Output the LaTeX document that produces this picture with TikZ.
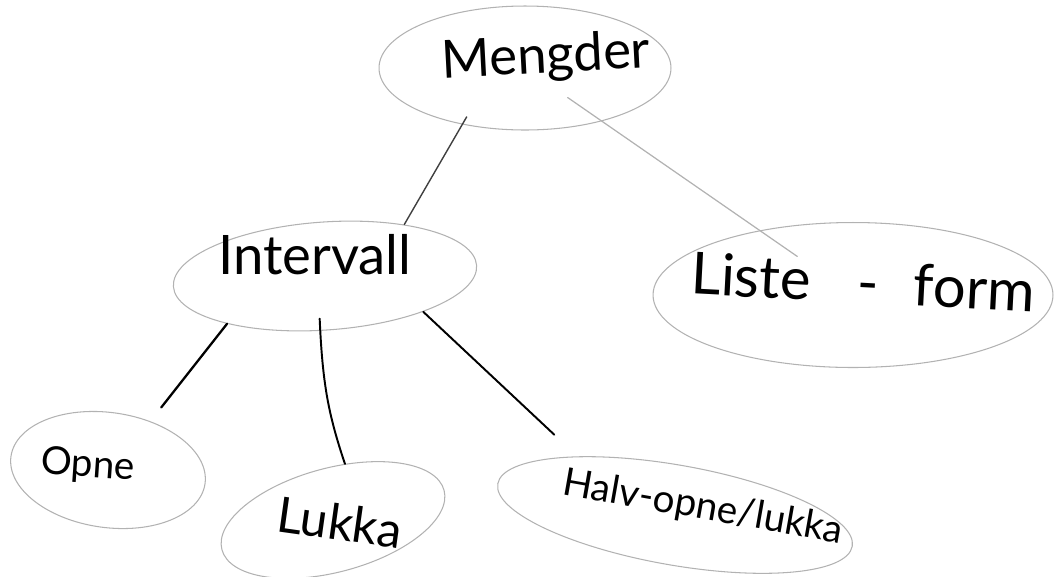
\documentclass[tikz,border=0pt]{standalone}
\usepackage{fontspec}
\setmainfont{Lato}
\usetikzlibrary{shapes.geometric,calc}
\begin{document}
\begin{tikzpicture}[x=0.02cm,y=-0.02cm,
  bubble/.style={ellipse,draw=gray!60,line width=0.6pt,inner sep=0pt},
  hand/.style={inner sep=0pt,text=black},
  link/.style={draw=black,line width=1.1pt,line cap=round},
  faint/.style={draw=gray!60,line width=0.7pt,line cap=round}]
\useasboundingbox (0,0) rectangle (1054,576);

% bubbles
\node[bubble,minimum width=5.84cm,minimum height=2.48cm] (meng) at (525,68) {};
\node[bubble,minimum width=6.08cm,minimum height=2.16cm,rotate=4] (int) at (325,276) {};
\node[bubble,minimum width=8.0cm,minimum height=2.9cm] (liste) at (853,295) {};
\node[bubble,minimum width=3.92cm,minimum height=2.3cm,rotate=-8] (opne) at (108,470) {};
\node[bubble,minimum width=4.6cm,minimum height=2.08cm,rotate=15] (lukka) at (333,520) {};
\node[bubble,minimum width=7.2cm,minimum height=2.0cm,rotate=-10] (halv) at (675,515) {};

% handwritten labels
\node[hand,font=\fontsize{30}{30}\selectfont,rotate=3] (tmeng) at (546,58) {Mengder};
\node[hand,font=\fontsize{31}{31}\selectfont] (tint) at (315,255) {Intervall};
\node[hand,font=\fontsize{33}{33}\selectfont,rotate=-3] (tliste) at (863,282) {Liste\hspace{0.8em}-\hspace{0.6em}form};
\node[hand,font=\fontsize{22}{22}\selectfont,rotate=-4] (topne) at (88,466) {Opne};
\node[hand,font=\fontsize{28}{28}\selectfont,rotate=-8] (tlukka) at (340,522) {Lukka};
\node[hand,font=\fontsize{22}{22}\selectfont,rotate=-10] (thalv) at (703,508) {Halv-opne/lukka};

% connectors
\draw[link,draw=black!75,line width=0.8pt,shorten <=-5pt] (meng.222) -- (int.29);
\draw[faint] ($(meng)!0.13!(liste)$) -- ($(meng)!0.83!(liste)$);
\draw[link,line width=1.3pt,shorten >=10pt] (int.202) -- (opne.57);
\draw[link,shorten <=-7pt] (int.261) to[bend right=8] (lukka.63);
\draw[link,shorten >=18pt] (int.336) -- (halv.159);
\end{tikzpicture}
\end{document}
